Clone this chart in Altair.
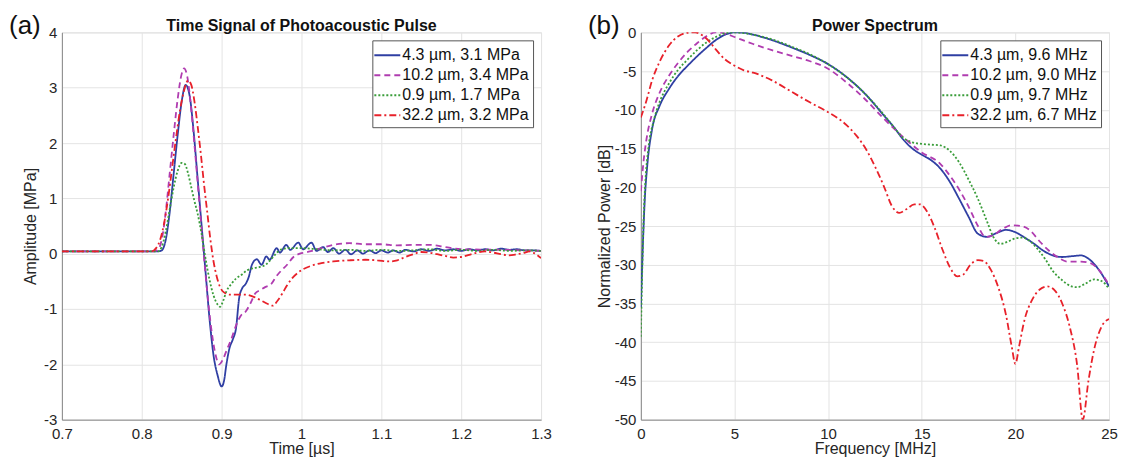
import altair as alt
import pandas as pd

# ---------------- Panel (a): time signal ----------------
A_LABELS = ["4.3 µm, 3.1 MPa", "10.2 µm, 3.4 MPa", "0.9 µm, 1.7 MPa", "32.2 µm, 3.2 MPa"]
B_LABELS = ["4.3 µm, 9.6 MHz", "10.2 µm, 9.0 MHz", "0.9 µm, 9.7 MHz", "32.2 µm, 6.7 MHz"]
COLORS = ["#2f3fa3", "#b03cb0", "#3a9d3a", "#e8212a"]
DASHES = [[1, 0], [6, 4], [2, 2], [7, 3, 2, 3]]

X_TICKS_A = [0.7, 0.8, 0.9, 1.0, 1.1, 1.2, 1.3]
Y_TICKS_A = [-3, -2, -1, 0, 1, 2, 3, 4]
X_TICKS_B = [0, 5, 10, 15, 20, 25]
Y_TICKS_B = [-50, -45, -40, -35, -30, -25, -20, -15, -10, -5, 0]

BLUE_T = [0.70, 0.82, 0.825, 0.83, 0.835, 0.84, 0.845, 0.85, 0.855, 0.86, 0.865, 0.87,
          0.875, 0.88, 0.885, 0.89, 0.895, 0.90, 0.903, 0.906, 0.91, 0.914, 0.918, 0.922,
          0.926, 0.930, 0.934, 0.938, 0.944, 0.950, 0.956, 0.960, 0.969, 0.973, 0.981,
          0.986, 0.996, 1.002, 1.0125, 1.019, 1.027, 1.033, 1.040, 1.047, 1.055, 1.062,
          1.07, 1.077, 1.085, 1.093, 1.10, 1.108, 1.115, 1.123, 1.13, 1.14, 1.15, 1.16,
          1.17, 1.18, 1.19, 1.20, 1.21, 1.22, 1.23, 1.24, 1.25, 1.26, 1.27, 1.28, 1.29, 1.30]
BLUE_A = [0.04, 0.04, 0.06, 0.25, 0.75, 1.45, 2.15, 2.75, 3.05, 2.85, 2.2, 1.35,
          0.5, -0.35, -1.2, -1.85, -2.2, -2.4, -2.3, -2.0, -1.7, -1.55, -1.35, -0.8,
          -0.62, -0.55, -0.42, -0.2, -0.1, -0.2, -0.05, -0.11, 0.1, 0.02, 0.16,
          0.07, 0.2, 0.08, 0.2, 0.05, 0.12, 0.03, 0.1, 0.0, 0.07, -0.01,
          0.06, 0.0, 0.06, 0.01, 0.06, 0.02, 0.06, 0.02, 0.07, 0.04, 0.08, 0.05,
          0.09, 0.06, 0.08, 0.05, 0.08, 0.06, 0.08, 0.06, 0.09, 0.07, 0.08, 0.06, 0.06, 0.05]

MAG_T = [0.70, 0.815, 0.82, 0.825, 0.83, 0.835, 0.84, 0.845, 0.85, 0.853, 0.857, 0.862,
         0.867, 0.872, 0.877, 0.882, 0.887, 0.892, 0.897, 0.902, 0.907, 0.912, 0.918,
         0.924, 0.93, 0.936, 0.942, 0.948, 0.955, 0.962, 0.968, 0.975, 0.982, 0.99,
         0.998, 1.005, 1.015, 1.025, 1.04, 1.06, 1.08, 1.10, 1.12, 1.14, 1.16, 1.18,
         1.20, 1.25, 1.30]
MAG_A = [0.04, 0.04, 0.07, 0.25, 0.75, 1.45, 2.15, 2.8, 3.25, 3.35, 3.2, 2.6,
         1.8, 0.95, 0.1, -0.7, -1.35, -1.8, -2.0, -1.9, -1.72, -1.55, -1.3,
         -1.12, -1.05, -0.9, -0.72, -0.66, -0.6, -0.55, -0.42, -0.3, -0.2, -0.06,
         0.0, 0.02, 0.06, 0.1, 0.16, 0.19, 0.17, 0.17, 0.15, 0.16, 0.16, 0.12,
         0.08, 0.07, 0.05]

GRN_T = [0.70, 0.82, 0.825, 0.83, 0.835, 0.84, 0.845, 0.85, 0.854, 0.858, 0.862, 0.866,
         0.87, 0.875, 0.88, 0.885, 0.89, 0.895, 0.898, 0.902, 0.906, 0.912, 0.918,
         0.925, 0.932, 0.94, 0.948, 0.955, 0.962, 0.968, 0.975, 0.985, 1.0, 1.02,
         1.04, 1.06, 1.08, 1.1, 1.12, 1.14, 1.16, 1.18, 1.2, 1.22, 1.24, 1.26, 1.28, 1.3]
GRN_A = [0.04, 0.04, 0.12, 0.4, 0.8, 1.2, 1.5, 1.64, 1.62, 1.45, 1.2, 0.95,
         0.72, 0.35, -0.1, -0.48, -0.76, -0.92, -0.96, -0.85, -0.68, -0.55, -0.45,
         -0.38, -0.3, -0.26, -0.24, -0.2, -0.1, 0.0, 0.08, 0.1, 0.1, 0.08,
         0.06, 0.07, 0.05, 0.07, 0.05, 0.06, 0.08, 0.05, 0.07, 0.05, 0.07, 0.05, 0.06, 0.05]

RED_T = [0.70, 0.812, 0.818, 0.823, 0.828, 0.833, 0.838, 0.843, 0.848, 0.853, 0.858,
         0.862, 0.866, 0.870, 0.874, 0.878, 0.882, 0.886, 0.890, 0.894, 0.898, 0.903,
         0.910, 0.920, 0.930, 0.940, 0.950, 0.958, 0.964, 0.970, 0.976, 0.982, 0.988,
         0.995, 1.002, 1.012, 1.025, 1.04, 1.06, 1.08, 1.095, 1.11, 1.12, 1.13, 1.14,
         1.15, 1.16, 1.17, 1.18, 1.19, 1.20, 1.21, 1.22, 1.23, 1.24, 1.25, 1.26, 1.27,
         1.28, 1.285, 1.29, 1.30]
RED_A = [0.04, 0.04, 0.1, 0.25, 0.55, 1.0, 1.55, 2.1, 2.6, 2.95, 3.13,
         3.05, 2.75, 2.3, 1.8, 1.25, 0.75, 0.25, -0.15, -0.42, -0.6, -0.7,
         -0.74, -0.74, -0.74, -0.78, -0.85, -0.91, -0.94, -0.85, -0.72, -0.57, -0.45,
         -0.35, -0.28, -0.22, -0.17, -0.14, -0.12, -0.11, -0.12, -0.14, -0.12, -0.06, -0.01,
         0.03, 0.02, -0.01, -0.04, -0.07, -0.06, -0.02, 0.02, 0.04, 0.02, -0.01, -0.03, -0.01,
         0.02, 0.04, 0.02, -0.08]

# ---------------- Panel (b): power spectrum ----------------
BLUE_F = [0, 0.1, 0.2, 0.35, 0.6, 1.0, 1.5, 2.0, 2.5, 3.0, 3.5, 4.0, 4.5, 5.0, 5.5, 6.0,
          7.0, 8.0, 9.0, 10.0, 11.0, 12.0, 13.0, 13.5, 14.0, 14.5, 15.0, 15.5, 16.0, 16.5,
          17.0, 17.5, 18.0, 18.5, 19.0, 19.5, 20.0, 20.5, 21.0, 21.5, 22.0, 22.5, 23.0,
          23.5, 24.0, 24.5, 25.0]
BLUE_P = [-35.5, -28, -22, -17, -12.5, -9.5, -7.3, -5.6, -4.3, -3.1, -2.0, -1.0, -0.3, 0, -0.05, -0.3,
          -1.0, -1.9, -2.9, -4.1, -5.8, -8.0, -10.8, -12.2, -13.8, -15.0, -15.8, -16.5, -17.6, -19.3,
          -21.5, -23.8, -26.0, -26.4, -25.9, -25.5, -25.8, -26.5, -27.3, -28.2, -28.8, -29.0, -28.9,
          -28.8, -29.4, -30.8, -32.8]

MAG_F = [0, 0.15, 0.3, 0.6, 1.0, 1.5, 2.0, 2.5, 3.0, 3.5, 4.0, 4.5, 5.0, 6.0, 7.0, 8.0, 9.0,
         10.0, 11.0, 12.0, 13.0, 14.0, 15.0, 16.0, 16.5, 17.0, 17.5, 18.0, 18.4, 18.8, 19.3,
         19.8, 20.3, 20.8, 21.3, 21.8, 22.3, 22.8, 23.5, 24.0, 24.5, 25.0]
MAG_P = [-20.5, -16.5, -13.8, -10.5, -7.8, -5.6, -3.9, -2.5, -1.4, -0.5, 0, -0.15, -0.6, -1.5, -2.3, -3.0, -3.7,
         -4.7, -6.5, -8.7, -11.2, -13.5, -15.5, -17.0, -18.5, -20.3, -22.5, -25.0, -26.4, -26.2, -25.4,
         -24.9, -25.0, -25.6, -27.0, -28.2, -29.1, -29.6, -29.6, -29.8, -30.8, -32.6]

GRN_F = [0, 0.08, 0.15, 0.25, 0.4, 0.7, 1.0, 1.5, 2.0, 2.5, 3.0, 3.5, 4.0, 4.5, 5.0, 5.5, 6.0,
         7.0, 8.0, 9.0, 10.0, 11.0, 12.0, 13.0, 13.5, 14.0, 14.5, 15.0, 15.5, 16.0, 16.5, 17.0,
         17.5, 18.0, 18.5, 18.8, 19.2, 19.6, 20.0, 20.4, 20.8, 21.2, 21.6, 22.0, 22.5, 23.0,
         23.3, 23.7, 24.2, 24.6, 25.0]
GRN_P = [-39.3, -30, -24, -19, -15, -11.3, -9.0, -6.6, -4.8, -3.5, -2.3, -1.3, -0.6, -0.1, 0, -0.1, -0.3,
         -0.9, -1.8, -2.8, -4.1, -5.8, -8.0, -10.7, -12.2, -13.6, -14.2, -14.4, -14.5, -14.6, -15.3, -16.8,
         -19.0, -21.5, -24.5, -26.3, -27.3, -27.0, -26.6, -26.5, -27.0, -28.0, -29.3, -30.8, -32.0, -32.8,
         -32.9, -32.5, -31.9, -32.1, -33.1]

RED_F = [0, 0.3, 0.6, 1.0, 1.5, 2.0, 2.5, 2.9, 3.3, 3.7, 4.0, 4.5, 5.0, 5.5, 6.0, 7.0, 8.0,
         9.0, 10.0, 11.0, 11.5, 12.0, 12.5, 13.0, 13.4, 13.8, 14.2, 14.6, 14.9, 15.3, 15.7,
         16.1, 16.5, 16.9, 17.2, 17.6, 18.0, 18.3, 18.7, 19.1, 19.5, 19.8, 20.0, 20.2, 20.5,
         20.9, 21.3, 21.7, 22.1, 22.5, 22.9, 23.3, 23.6, 23.9, 24.2, 24.6, 25.0]
RED_P = [-11, -8.8, -6.2, -3.8, -1.7, -0.5, -0.05, 0, -0.4, -1.3, -2.2, -3.5, -4.3, -4.9, -5.2, -6.2, -7.6,
         -9.0, -10.3, -12.0, -13.3, -15.0, -17.3, -20.0, -22.4, -23.3, -22.8, -22.2, -22.2, -23.2, -25.3,
         -28.0, -30.3, -31.5, -31.3, -30.0, -29.4, -29.5, -30.7, -33.0, -36.5, -40.5, -42.8, -40.5, -37.0,
         -34.5, -33.2, -32.8, -33.3, -35.0, -38.0, -43.0, -50.0, -45.0, -41.0, -38.0, -37.0]


def long_table(labels, xs, ys):
    rows = []
    for lab, xv, yv in zip(labels, xs, ys):
        for i, (a, b) in enumerate(zip(xv, yv)):
            rows.append({"series": lab, "x": a, "y": b, "i": i})
    return pd.DataFrame(rows)


df_a = long_table(A_LABELS, [BLUE_T, MAG_T, GRN_T, RED_T], [BLUE_A, MAG_A, GRN_A, RED_A])
df_b = long_table(B_LABELS, [BLUE_F, MAG_F, GRN_F, RED_F], [BLUE_P, MAG_P, GRN_P, RED_P])

FONT = "Liberation Sans"
TXT = "#262626"
GRID = "#e4e4e4"
DOMAIN = "#8a8a8a"
W_A, W_B, H = 480, 469, 388
MINUS_FIX = "replace(datum.label, '\u2212', '-')"


def legend():
    return alt.Legend(orient="top-right", offset=8, title=None, fillColor="white",
                      strokeColor="#555555", padding=4, labelFontSize=16, labelFont=FONT,
                      labelColor="#111111", symbolType="M-1.3,0H1.3", symbolSize=400,
                      symbolStrokeWidth=2, rowPadding=1, labelOffset=4, labelLimit=300)


def xaxis(values, title, ty):
    return alt.Axis(values=values, format="~g", labelExpr=MINUS_FIX, grid=True, gridColor=GRID,
                    domainColor=DOMAIN, ticks=False, labelFontSize=15, labelColor=TXT,
                    labelFont=FONT, labelPadding=7, labelFlush=False, labelOverlap=False,
                    title=title, titleFontSize=16, titleFont=FONT, titleFontWeight="normal",
                    titleColor=TXT, titleY=ty, titleBaseline="middle")


def yaxis(values, title, tx):
    return alt.Axis(values=values, format="~g", labelExpr=MINUS_FIX, grid=True, gridColor=GRID,
                    domainColor=DOMAIN, ticks=False, labelFontSize=15, labelColor=TXT,
                    labelFont=FONT, labelPadding=5, labelOverlap=False, title=title,
                    titleFontSize=16, titleFont=FONT, titleFontWeight="normal", titleColor=TXT,
                    titleX=tx, titleY=H / 2, titleAngle=270, titleAlign="center",
                    titleBaseline="middle")


def panel(df, labels, xdom, ydom, xticks, yticks, xtitle, ytitle, ty, tx, tag, title, width):
    lines = alt.Chart(df).mark_line(strokeWidth=1.8, interpolate="monotone", clip=True).encode(
        x=alt.X("x:Q", scale=alt.Scale(domain=xdom, nice=False, zero=False), axis=xaxis(xticks, xtitle, ty)),
        y=alt.Y("y:Q", scale=alt.Scale(domain=ydom, nice=False, zero=False), axis=yaxis(yticks, ytitle, tx)),
        color=alt.Color("series:N", sort=labels, scale=alt.Scale(domain=labels, range=COLORS), legend=legend()),
        strokeDash=alt.StrokeDash("series:N", sort=labels, scale=alt.Scale(domain=labels, range=DASHES), legend=legend()),
        order="i:Q",
    )
    tag_mark = alt.Chart(pd.DataFrame({"t": [tag]})).mark_text(
        align="left", baseline="middle", fontSize=26, font=FONT, color="#111111"
    ).encode(text="t:N", x=alt.value(-53), y=alt.value(-6))
    title_mark = alt.Chart(pd.DataFrame({"t": [title]})).mark_text(
        align="center", baseline="middle", fontSize=16, fontWeight="bold", font=FONT, color="#111111"
    ).encode(text="t:N", x=alt.value(width / 2), y=alt.value(-6))
    return alt.layer(lines, tag_mark, title_mark).properties(width=width, height=H)


left = panel(df_a, A_LABELS, [0.7, 1.3], [-3, 4], X_TICKS_A, Y_TICKS_A, "Time [µs]",
             "Amplitude [MPa]", 29, -31, "(a)", "Time Signal of Photoacoustic Pulse", W_A)
right = panel(df_b, B_LABELS, [0, 25], [-50, 0], X_TICKS_B, Y_TICKS_B, "Frequency [MHz]",
              "Normalized Power [dB]", 29, -36, "(b)", "Power Spectrum", W_B)

chart = alt.hconcat(left, right, spacing=100, bounds="flush").resolve_scale(
    color="independent", strokeDash="independent"
).resolve_legend(color="independent", strokeDash="independent").properties(
    padding={"left": 0, "top": 4, "right": 0, "bottom": 0}
).configure_view(stroke=GRID).configure(background="white")

chart.save("out.html", embed_options={"renderer": "svg", "actions": False})
